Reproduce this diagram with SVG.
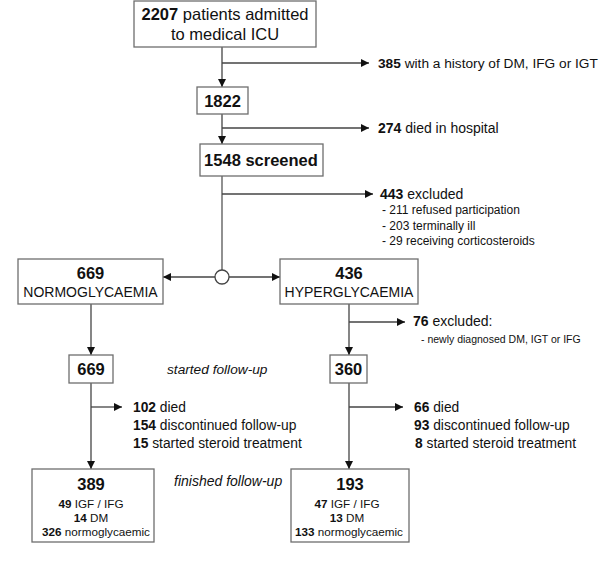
<svg xmlns="http://www.w3.org/2000/svg" width="600" height="582" viewBox="0 0 600 582">
<defs>
<marker id="ah" viewBox="0 0 10 10" refX="10" refY="5" markerWidth="8" markerHeight="8" markerUnits="userSpaceOnUse" orient="auto">
<path d="M0,0 L10,5 L0,10 z" fill="#111"/>
</marker>
<style>
text{font-family:"Liberation Sans",Arial,sans-serif;fill:#111}
.b{font-weight:bold}
.box{fill:#fff;stroke:#6e6e6e;stroke-width:1.3}
.ln{stroke:#555;stroke-width:1.3;fill:none}
.ar{stroke:#444;stroke-width:1.3;fill:none;marker-end:url(#ah)}
.t14{font-size:14px}
.t16{font-size:16.5px}
.t12{font-size:11.7px}
.t11{font-size:12px}
.it{font-style:italic;font-size:13.7px}
</style>
</defs>
<rect width="600" height="582" fill="#fff"/>

<g id="connectors">
<line class="ar" x1="222" y1="47" x2="222" y2="87"/>
<line class="ar" x1="222" y1="63" x2="369" y2="63"/>
<line class="ar" x1="222" y1="114" x2="222" y2="144"/>
<line class="ar" x1="222" y1="128" x2="369" y2="128"/>
<line class="ln" x1="222" y1="176" x2="222" y2="270"/>
<line class="ar" x1="222" y1="194" x2="373" y2="194"/>
<line class="ar" x1="215" y1="277" x2="163" y2="277"/>
<line class="ar" x1="229" y1="277" x2="280" y2="277"/>
<circle cx="222" cy="277" r="7" fill="#fff" stroke="#444" stroke-width="1.3"/>
<line class="ar" x1="91" y1="304" x2="91" y2="355"/>
<line class="ar" x1="349" y1="304" x2="349" y2="355"/>
<line class="ar" x1="349" y1="322" x2="405" y2="322"/>
<line class="ar" x1="91" y1="383" x2="91" y2="469"/>
<line class="ar" x1="91" y1="407" x2="122" y2="407"/>
<line class="ar" x1="349" y1="383" x2="349" y2="469"/>
<line class="ar" x1="349" y1="407" x2="403" y2="407"/>
</g>

<g id="admitted">
<rect class="box" x="134" y="1" width="182" height="46"/>
<text x="225" y="20" text-anchor="middle" style="font-size:16.5px"><tspan class="b">2207</tspan> patients admitted</text>
<text x="225" y="40" text-anchor="middle" style="font-size:16.5px">to medical ICU</text>
</g>

<g id="n1822">
<rect class="box" x="197" y="87" width="51" height="27"/>
<text class="t16 b" x="222.5" y="106.5" text-anchor="middle">1822</text>
</g>

<g id="screened">
<rect class="box" x="200" y="144" width="123" height="32"/>
<text class="t16 b" x="261" y="166" text-anchor="middle">1548 screened</text>
</g>

<g id="history">
<text x="378" y="68" style="font-size:13.7px"><tspan class="b">385</tspan> with a history of DM, IFG or IGT</text>
</g>

<g id="died-hospital">
<text class="t14" x="378" y="133"><tspan class="b">274</tspan> died in hospital</text>
</g>

<g id="excluded443">
<text class="t14" x="380" y="199"><tspan class="b">443</tspan> excluded</text>
<text class="t11" x="382" y="214">- 211 refused participation</text>
<text class="t11" x="382" y="230">- 203 terminally ill</text>
<text class="t11" x="382" y="245">- 29 receiving corticosteroids</text>
</g>

<g id="normo">
<rect class="box" x="18" y="259" width="145" height="45"/>
<text class="t16 b" x="90.5" y="279" text-anchor="middle">669</text>
<text class="t14" x="90.5" y="297" text-anchor="middle">NORMOGLYCAEMIA</text>
</g>

<g id="hyper">
<rect class="box" x="280" y="259" width="138" height="45"/>
<text class="t16 b" x="349" y="279" text-anchor="middle">436</text>
<text class="t14" x="349" y="297" text-anchor="middle">HYPERGLYCAEMIA</text>
</g>

<g id="excluded76">
<text class="t14" x="413" y="326"><tspan class="b">76</tspan> excluded:</text>
<text x="421" y="343" style="font-size:10.5px">- newly diagnosed DM, IGT or IFG</text>
</g>

<g id="n669">
<rect class="box" x="69" y="355" width="44" height="28"/>
<text class="t16 b" x="91" y="375" text-anchor="middle">669</text>
</g>

<g id="n360">
<rect class="box" x="330" y="355" width="37" height="28"/>
<text class="t16 b" x="348.5" y="375" text-anchor="middle">360</text>
</g>

<g id="started-label">
<text class="it" x="167" y="374">started follow-up</text>
</g>

<g id="loss-left">
<text x="133" y="412" style="font-size:13.8px"><tspan class="b">102</tspan> died</text>
<text x="133" y="430" style="font-size:13.8px"><tspan class="b">154</tspan> discontinued follow-up</text>
<text x="133" y="448" style="font-size:13.8px"><tspan class="b">15</tspan> started steroid treatment</text>
</g>

<g id="loss-right">
<text x="414" y="412" style="font-size:13.8px"><tspan class="b">66</tspan> died</text>
<text x="414" y="430" style="font-size:13.8px"><tspan class="b">93</tspan> discontinued follow-up</text>
<text x="415" y="448" style="font-size:13.8px"><tspan class="b">8</tspan> started steroid treatment</text>
</g>

<g id="finished-label">
<text class="it" x="174" y="486" style="font-size:14px">finished follow-up</text>
</g>

<g id="n389">
<rect class="box" x="32" y="469" width="122" height="73"/>
<text class="t16 b" x="91" y="490" text-anchor="middle">389</text>
<text class="t12" x="91" y="508" text-anchor="middle"><tspan class="b">49</tspan> IGF / IFG</text>
<text class="t12" x="91" y="522" text-anchor="middle"><tspan class="b">14</tspan> DM</text>
<text class="t12" x="96" y="536" text-anchor="middle"><tspan class="b">326</tspan> normoglycaemic</text>
</g>

<g id="n193">
<rect class="box" x="291" y="469" width="118" height="73"/>
<text class="t16 b" x="350" y="490" text-anchor="middle">193</text>
<text class="t12" x="347" y="508" text-anchor="middle"><tspan class="b">47</tspan> IGF / IFG</text>
<text class="t12" x="347" y="522" text-anchor="middle"><tspan class="b">13</tspan> DM</text>
<text class="t12" x="349" y="536" text-anchor="middle"><tspan class="b">133</tspan> normoglycaemic</text>
</g>
</svg>
